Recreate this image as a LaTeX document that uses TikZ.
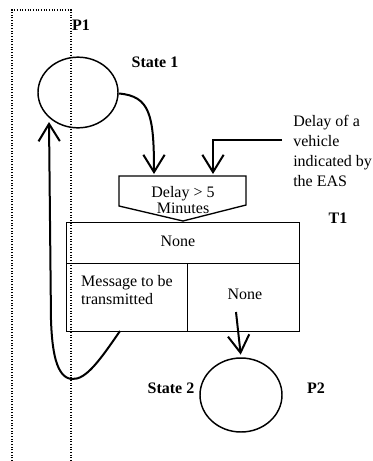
\documentclass[tikz,border=0pt]{standalone}
\usepackage{fontspec}
\setmainfont{Liberation Serif}
\usetikzlibrary{shapes.geometric,arrows.meta}
\begin{document}
\begin{tikzpicture}[x=0.75pt,y=-0.75pt,
  every node/.style={font=\fontsize{12}{15}\selectfont},
  lbl/.style={font=\fontsize{12}{15}\selectfont\bfseries, inner sep=0pt},
  txt/.style={inner sep=0pt, align=left},
  state/.style={draw, ellipse, line width=1.1pt, inner sep=0pt},
  cell/.style={draw, rectangle, line width=1pt, inner sep=0pt, anchor=north west},
  conn/.style={line width=1.5pt, -{Straight Barb[length=13pt,width=16pt]}},
  zone/.style={line width=0.8pt, dash pattern=on 0.8pt off 1.2pt}]
\useasboundingbox (0,0) rectangle (372,461);
% dotted region P1
\coordinate (z1) at (12,461);
\coordinate (z2) at (12,10);
\coordinate (z3) at (71,10);
\coordinate (z4) at (71,461);
\draw[zone] (z1) -- (z2) -- (z3) -- (z4);
\node[lbl] (p1) at (81,25) {P1};
% State 1
\node[state, minimum width=60pt, minimum height=53pt] (s1) at (78,92.5) {};
\node[lbl] (s1l) at (155,62) {State 1};
% pentagon
\coordinate (q1) at (119,176);
\coordinate (q2) at (246,176);
\coordinate (q3) at (246,205);
\coordinate (q4) at (183,221);
\coordinate (q5) at (119,206);
\draw[line width=1pt, line join=miter] (q1) -- (q2) -- (q3) -- (q4) -- (q5) -- cycle;
\node[txt, align=center, font=\fontsize{12}{12}\selectfont] (delay) at (183,200) {Delay > 5\\Minutes};
\coordinate (d1) at (154,174);
\coordinate (d2) at (213,174);
% EAS text
\node[txt, font=\fontsize{12}{15}\selectfont, anchor=west] (eas) at (293,151) {Delay of a\\vehicle\\indicated by\\the EAS};
\coordinate (e0) at (282,140);
\coordinate (e1) at (213,140);
% T1 table
\node[cell, minimum width=174.75pt, minimum height=30.75pt] (t1top) at (66,222) {};
\node[cell, minimum width=90.75pt, minimum height=51pt] (t1bl) at (66,263) {};
\node[cell, minimum width=84pt, minimum height=51pt] (t1br) at (187,263) {};
\node[txt] (none1) at (178,241) {None};
\node[txt, font=\fontsize{12}{13.5}\selectfont] (msg) at (127,290) {Message to be\\transmitted};
\node[txt] (none2) at (245,294) {None};
\node[lbl] (t1) at (338,218) {T1};
% State 2
\node[state, minimum width=61.5pt, minimum height=55.5pt] (s2) at (241,395) {};
\node[lbl] (s2l) at (171,388) {State 2};
\node[lbl] (p2) at (316,388) {P2};
% connectors
\coordinate (n0) at (236,312);
\coordinate (ls) at (120,331);
\coordinate (le) at (49,122);
\draw[conn] (s1.east) ++(0,1) .. controls (150,96) and (154,115) .. (d1);
\draw[conn] (e0) -- (e1) -- (d2);
\draw[conn, shorten >=2pt] (n0) -- (s2.north);
\draw[conn] (ls) .. controls (100,360) and (86,380) .. (72,379)
  .. controls (56,378) and (52,350) .. (51,320) -- (le);
\end{tikzpicture}
\end{document}
